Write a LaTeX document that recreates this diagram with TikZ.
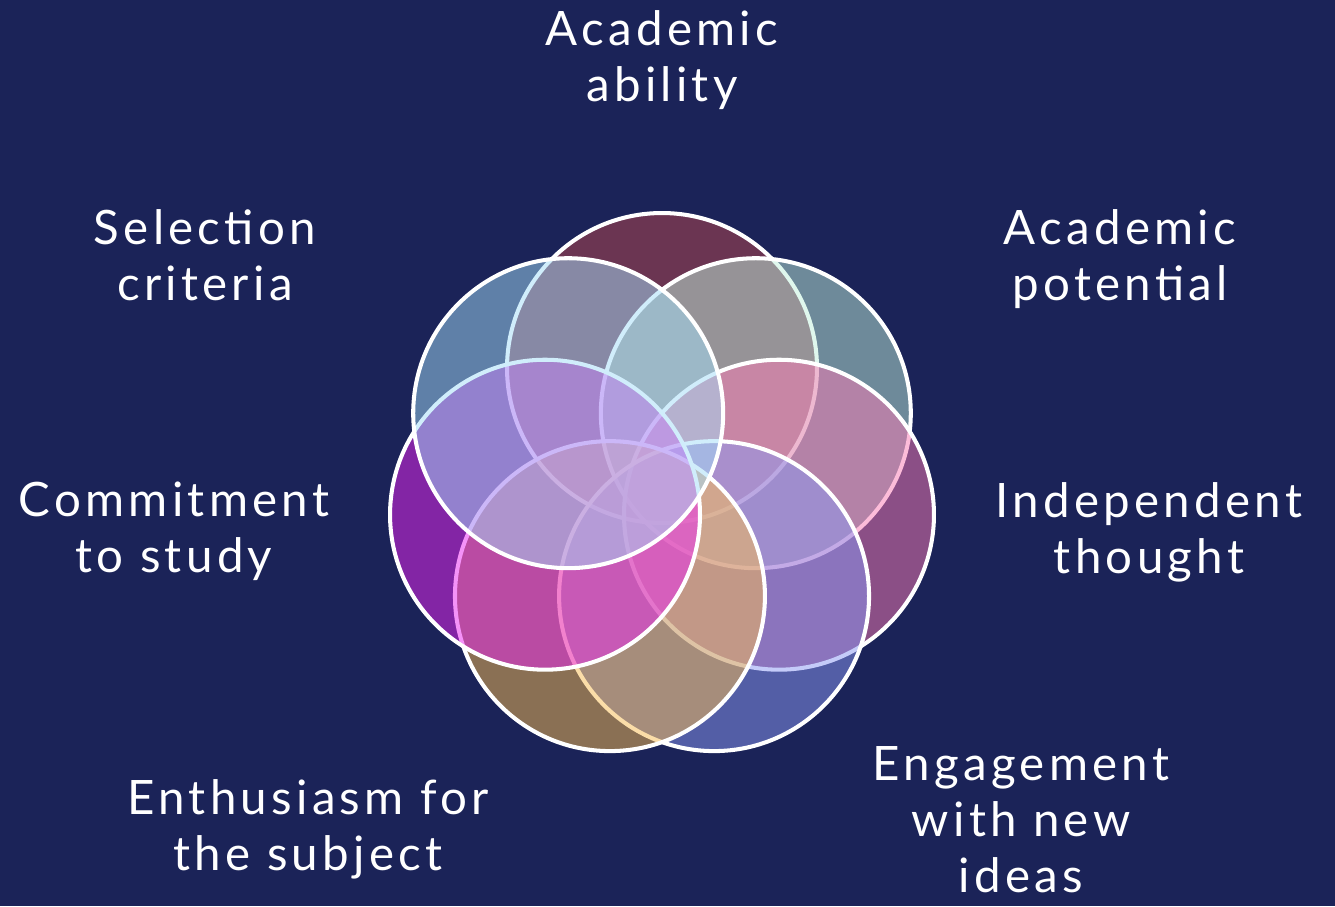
\documentclass[tikz,border=0pt]{standalone}
\usepackage{fontspec}
\setmainfont{Lato}[LetterSpace=9]
\usepackage{tikz}
\usepackage[dvipsnames]{xcolor}

\definecolor{navy}{RGB}{27,35,88}
\definecolor{cTop}{RGB}{187,71,78}
\definecolor{cUpRight}{RGB}{193,241,220}
\definecolor{cRight}{RGB}{251,123,180}
\definecolor{cLowRight}{RGB}{139,153,244}
\definecolor{cLowLeft}{RGB}{249,189,82}
\definecolor{cLeft}{RGB}{235,39,242}
\definecolor{cUpLeft}{RGB}{163,221,248}

\begin{document}
\begin{tikzpicture}[x=0.02cm, y=-0.02cm,
    petal/.style={draw=white, line width=2.3pt, fill opacity=0.5},
    lbl/.style={text=white, align=center, inner sep=0pt, anchor=base,
      font=\fontsize{27}{31.7}\selectfont}]
    \clip (0,0) rectangle (1335,906);
    \fill[navy] (0,0) rectangle (1335,906);

    %% the seven circles
    \coordinate (mid) at (662,488);
    \draw[petal, fill=cTop] ([shift={(-90:120)}]mid) circle (3.1cm);
    \draw[petal, fill=cUpRight] ([shift={(-38.57:120)}]mid) circle (3.1cm);
    \draw[petal, fill=cRight] ([shift={(12.86:120)}]mid) circle (3.1cm);
    \draw[petal, fill=cLowRight] ([shift={(64.29:120)}]mid) circle (3.1cm);
    \draw[petal, fill=cLowLeft] ([shift={(115.71:120)}]mid) circle (3.1cm);
    \draw[petal, fill=cLeft] ([shift={(167.14:120)}]mid) circle (3.1cm);
    \draw[petal, fill=cUpLeft] ([shift={(218.57:120)}]mid) circle (3.1cm);

    %% the labels (placed by the baseline of their last line)
    \node[lbl] (ability) at (662,101) {Academic\\ability};
    \node[lbl] (potential) at (1120,300) {Academic\\potential};
    \node[lbl] (thought) at (1149,573) {Independent\\thought};
    \node[lbl] (ideas) at (1021,892) {Engagement\\with new\\ideas};
    \node[lbl] (enthusiasm) at (308,870) {Enthusiasm for\\the subject};
    \node[lbl] (commitment) at (174,572) {Commitment\\to study};
    \node[lbl] (selection) at (205,300) {Selection\\criteria};
  \end{tikzpicture}
\end{document}
